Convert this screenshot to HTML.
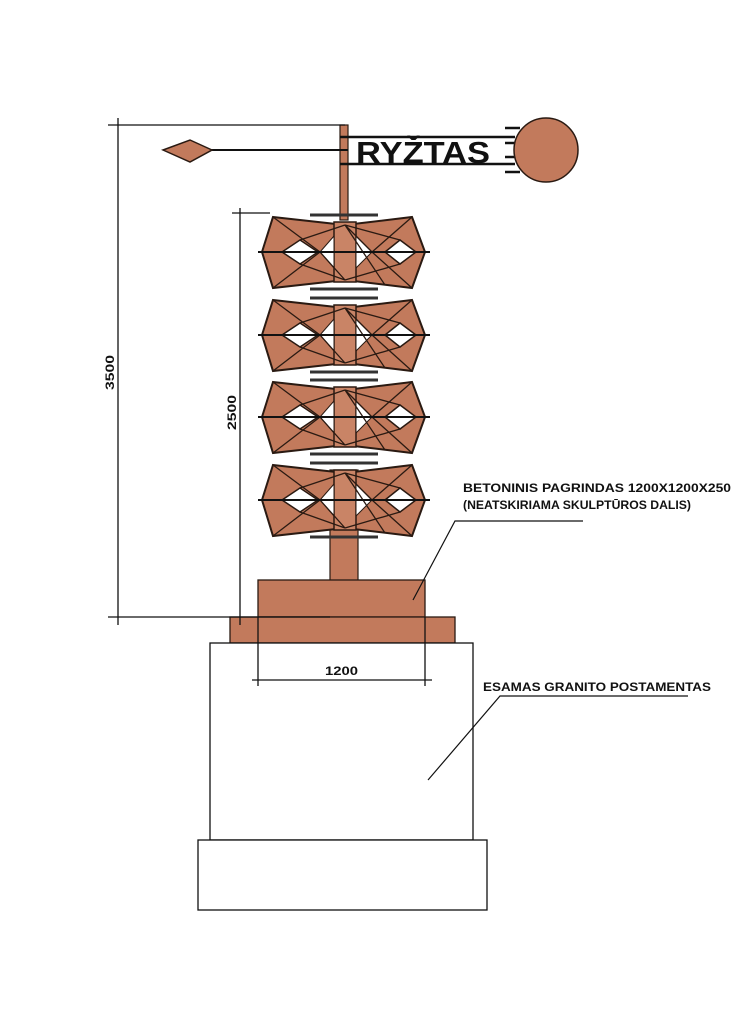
<!DOCTYPE html>
<html><head><meta charset="utf-8"><style>html,body{margin:0;padding:0;background:#fff}svg{display:block}</style></head>
<body>
<svg width="738" height="1024" viewBox="0 0 738 1024" xmlns="http://www.w3.org/2000/svg" font-family="Liberation Sans, sans-serif">
<defs>
<g id="mod">
<polygon points="273,217 345,225 412,217 425,252 412,288 345,280 273,288 262,252" fill="#c27a5c" stroke="#2a1a12" stroke-width="2"/>
<rect x="334" y="222" width="22" height="60" fill="#c98466" stroke="#2a1a12" stroke-width="1.5"/>
<polygon points="282,252 300,240 318,252 300,264" fill="#fff" stroke="#2a1a12" stroke-width="1.5"/>
<polygon points="320,252 334,236 334,268" fill="#fff" stroke="#2a1a12" stroke-width="1"/>
<polygon points="356,236 372,252 356,268" fill="#fff" stroke="#2a1a12" stroke-width="1"/>
<polygon points="385,252 400,240 416,252 400,264" fill="#fff" stroke="#2a1a12" stroke-width="1.5"/>
<path d="M273,217 L320,252 L273,288 M412,217 L372,252 L412,288 M300,240 L345,225 M300,264 L345,280 M400,240 L345,225 M400,264 L345,280 M372,252 L345,225 M320,252 L345,280 M345,225 L385,285" stroke="#2a1a12" stroke-width="1.3" fill="none"/>
<line x1="258" y1="252" x2="430" y2="252" stroke="#111" stroke-width="2"/>
<line x1="310" y1="215" x2="378" y2="215" stroke="#333" stroke-width="3"/>
<line x1="310" y1="289" x2="378" y2="289" stroke="#333" stroke-width="3"/>
</g>
</defs>
<rect x="340" y="125" width="8" height="95" fill="#c27a5c" stroke="#2a1a12" stroke-width="1.2"/>
<line x1="195" y1="150" x2="348" y2="150" stroke="#111" stroke-width="2"/>
<polygon points="163,150 190,140 212,150 190,162" fill="#c27a5c" stroke="#2a1a12" stroke-width="1.5"/>
<line x1="340" y1="137" x2="515" y2="137" stroke="#111" stroke-width="2.5"/>
<line x1="340" y1="164" x2="515" y2="164" stroke="#111" stroke-width="2.5"/>
<g stroke="#111" stroke-width="2.5"><line x1="505" y1="128" x2="520" y2="128"/><line x1="505" y1="143" x2="520" y2="143"/><line x1="505" y1="157" x2="520" y2="157"/><line x1="505" y1="172" x2="520" y2="172"/></g>
<circle cx="546" cy="150" r="32" fill="#c27a5c" stroke="#2a1a12" stroke-width="1.5"/>
<text x="356" y="163" font-size="31" font-weight="bold" textLength="134" lengthAdjust="spacingAndGlyphs" fill="#111">RYŽTAS</text>
<rect x="330" y="470" width="28" height="112" fill="#c27a5c" stroke="#2a1a12" stroke-width="1.2"/>
<use href="#mod"/>
<use href="#mod" transform="translate(0,83)"/>
<use href="#mod" transform="translate(0,165)"/>
<use href="#mod" transform="translate(0,248)"/>
<rect x="258" y="580" width="167" height="37" fill="#c27a5c" stroke="#2a1a12" stroke-width="1.3"/>
<rect x="230" y="617" width="225" height="26" fill="#c27a5c" stroke="#2a1a12" stroke-width="1.3"/>
<rect x="210" y="643" width="263" height="197" fill="#fff" stroke="#111" stroke-width="1.3"/>
<rect x="198" y="840" width="289" height="70" fill="#fff" stroke="#111" stroke-width="1.3"/>
<g stroke="#111" stroke-width="1.3" fill="none">
<line x1="118" y1="118" x2="118" y2="625"/>
<line x1="108" y1="125" x2="345" y2="125"/>
<line x1="108" y1="617" x2="330" y2="617"/>
<line x1="240" y1="208" x2="240" y2="625"/>
<line x1="232" y1="213" x2="270" y2="213"/>
<line x1="258" y1="617" x2="258" y2="686"/>
<line x1="425" y1="617" x2="425" y2="686"/>
<line x1="252" y1="680" x2="432" y2="680"/>
</g>
<g stroke="#111" stroke-width="1.2" fill="none">
<polyline points="413,600 455,521 583,521"/>
<polyline points="428,780 500,696 688,696"/>
</g>
<g font-weight="bold" font-size="12" fill="#111">
<text x="463" y="492" textLength="268" lengthAdjust="spacingAndGlyphs">BETONINIS PAGRINDAS 1200X1200X250</text>
<text x="463" y="509" textLength="228" lengthAdjust="spacingAndGlyphs">(NEATSKIRIAMA SKULPTŪROS DALIS)</text>
<text x="483" y="691" textLength="228" lengthAdjust="spacingAndGlyphs">ESAMAS GRANITO POSTAMENTAS</text>
<text x="325" y="675" textLength="33" lengthAdjust="spacingAndGlyphs">1200</text>
<text transform="translate(114,390) rotate(-90)" textLength="35" lengthAdjust="spacingAndGlyphs">3500</text>
<text transform="translate(236,430) rotate(-90)" textLength="35" lengthAdjust="spacingAndGlyphs">2500</text>
</g>
</svg>
</body></html>
